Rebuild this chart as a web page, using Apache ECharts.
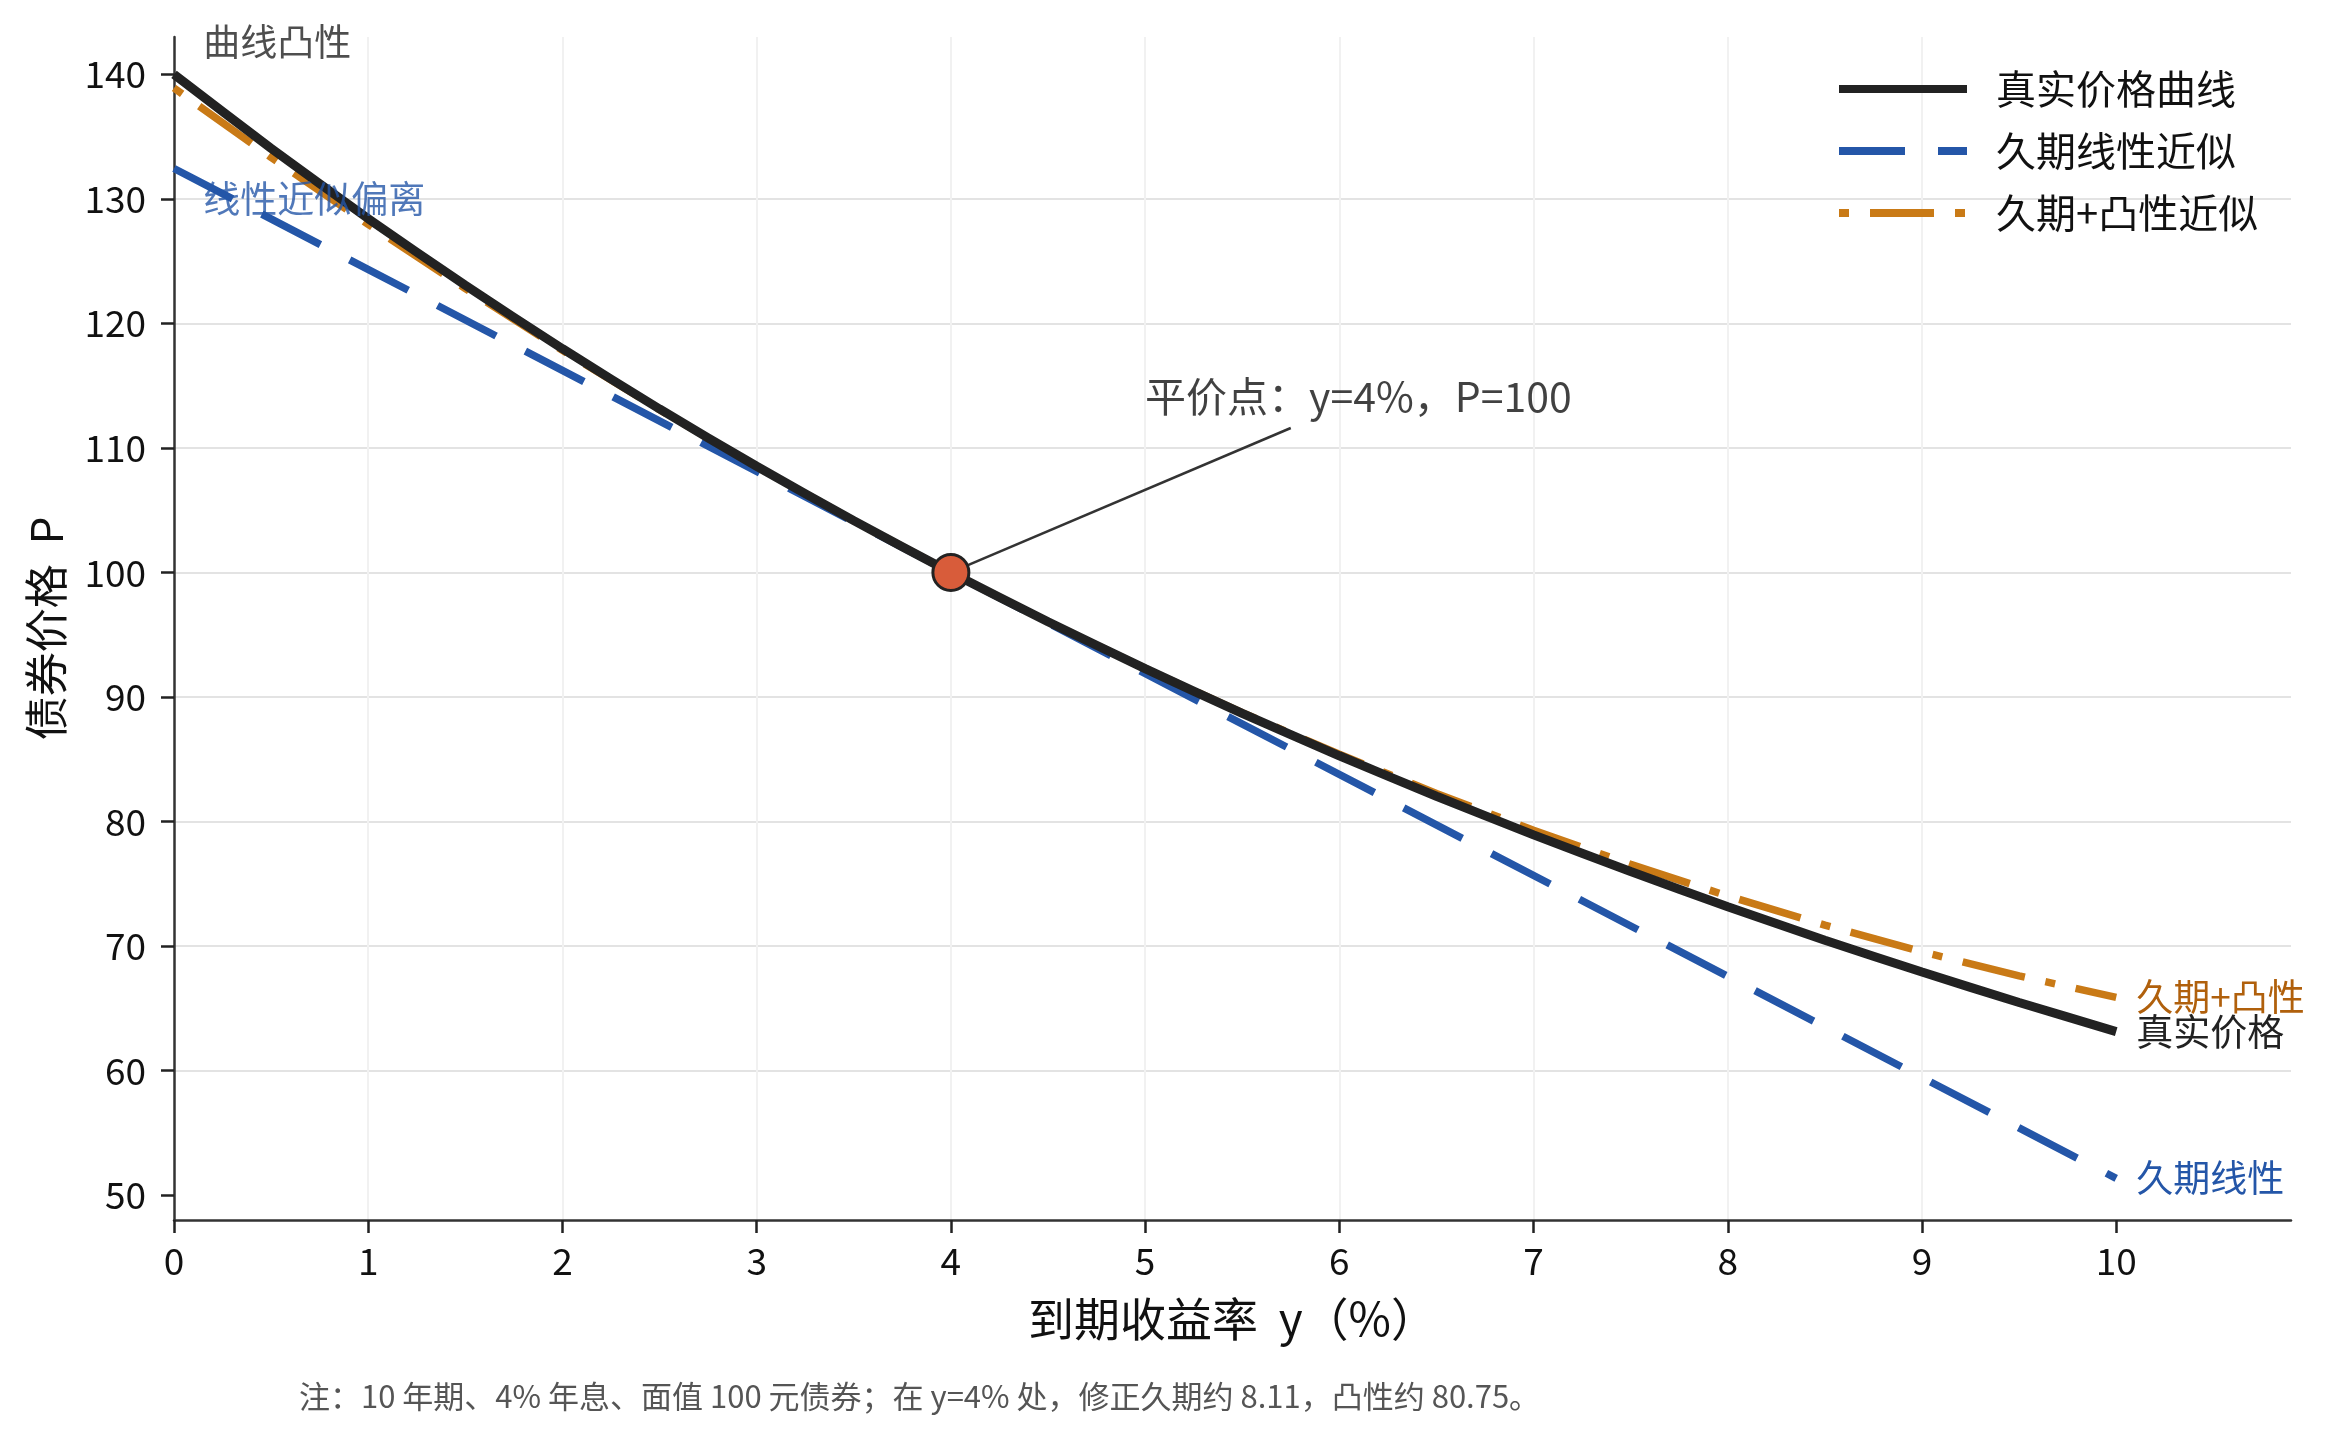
<!DOCTYPE html>
<html>
<head>
<meta charset="utf-8">
<title>债券价格与收益率</title>
<script src="https://cdn.jsdelivr.net/npm/echarts@6/dist/echarts.min.js"></script>
<style>
  html, body { margin: 0; padding: 0; background: #fff; }
  #chart { width: 2333px; height: 1440px; }
</style>
</head>
<body>
<div id="chart"></div>
<script>
// 收益率（%）
const yieldPts = [0, 0.5, 1, 1.5, 2, 2.5, 3, 3.5, 4, 4.5, 5, 5.5, 6, 6.5, 7, 7.5, 8, 8.5, 9, 9.5, 10]
// 真实价格
const truePrice = [140.00, 134.06, 128.41, 123.06, 117.97, 113.13, 108.53, 104.16, 100.00, 96.04, 92.28,
  88.69, 85.28, 82.03, 78.93, 75.98, 73.16, 70.47, 67.91, 65.47, 63.13]
// 久期线性近似（直线，两端点）
const durYield = [0, 10]
const durPrice = [132.44, 51.34]
// 久期+凸性近似
const convexPrice = [138.90, 133.33, 127.96, 122.80, 117.84, 113.07, 108.51, 104.16, 100.00, 96.05, 92.29,
  88.74, 85.40, 82.25, 79.30, 76.56, 74.02, 71.68, 69.54, 67.61, 65.88]
// 刻度
const xTicks = [0, 1, 2, 3, 4, 5, 6, 7, 8, 9, 10]
const yTicks = [50, 60, 70, 80, 90, 100, 110, 120, 130, 140]
// 平价点与注释
const parPoint = [4, 100]
const parLabelAt = [5.75, 111.6]
const notes = [
  { pos: [0.15, 142.6], text: '曲线凸性', color: '#222222', size: 37 },
  { pos: [0.15, 130.0], text: '线性近似偏离', color: '#2456a8', size: 37 },
  { pos: [5.0, 114.1], text: '平价点：y=4%，P=100', color: '#111111', size: 41 }
]

const FONT = '"Noto Sans CJK SC", "Noto Sans", sans-serif'
const zip = (xs, ys) => xs.map((x, i) => [x, ys[i]])

const chart = echarts.init(document.getElementById('chart'))

const option = {
  backgroundColor: '#ffffff',
  textStyle: { fontFamily: FONT },
  animation: false,
  grid: { left: 174, right: 42, top: 37, bottom: 220, containLabel: false },
  legend: {
    data: ['真实价格曲线', '久期线性近似', '久期+凸性近似'],
    orient: 'vertical',
    left: 1835,
    top: 69,
    padding: 0,
    itemWidth: 128,
    itemHeight: 40,
    itemGap: 22,
    itemStyle: { opacity: 0 },
    lineStyle: { width: 8 },
    textStyle: { fontSize: 40, color: '#111', fontFamily: FONT, padding: [0, 0, 0, 24] }
  },
  xAxis: {
    type: 'value',
    min: 0,
    max: 10.9,
    interval: 1,
    name: '到期收益率  y（%）',
    nameLocation: 'middle',
    nameGap: 76,
    nameTextStyle: { fontSize: 46, color: '#111', fontFamily: FONT },
    axisLine: { onZero: false, lineStyle: { color: '#333', width: 2.5 } },
    axisTick: { customValues: xTicks, length: 13, lineStyle: { color: '#222', width: 2.5 } },
    axisLabel: { customValues: xTicks, fontSize: 37, color: '#111', margin: 22, fontFamily: FONT },
    splitLine: { show: true, showMinLine: false, showMaxLine: false, lineStyle: { color: '#f1f1f1', width: 2 } }
  },
  yAxis: {
    type: 'value',
    min: 48,
    max: 143,
    splitNumber: 10,
    name: '债券价格  P',
    nameLocation: 'middle',
    nameGap: 106,
    nameTextStyle: { fontSize: 44, color: '#111', fontFamily: FONT },
    axisLine: { show: true, onZero: false, lineStyle: { color: '#333', width: 2.5 } },
    axisTick: { show: true, customValues: yTicks, length: 13, lineStyle: { color: '#222', width: 2.5 } },
    axisLabel: { customValues: yTicks, fontSize: 37, color: '#111', margin: 28, fontFamily: FONT },
    splitLine: { show: true, showMinLine: false, showMaxLine: false, lineStyle: { color: '#e3e3e3', width: 2 } }
  },
  series: [
    {
      name: '久期线性近似',
      type: 'line',
      data: zip(durYield, durPrice),
      symbol: 'none',
      z: 3,
      color: '#2456a8',
      lineStyle: { color: '#2456a8', width: 7.5, type: [66, 33], cap: 'butt' },
      endLabel: { show: true, formatter: '久期线性', distance: 20, fontSize: 37, color: '#2456a8', fontFamily: FONT }
    },
    {
      name: '久期+凸性近似',
      type: 'line',
      data: zip(yieldPts, convexPrice),
      symbol: 'none',
      z: 4,
      color: '#c97a16',
      lineStyle: { color: '#c97a16', width: 7.5, type: [10, 21, 64, 21], cap: 'butt' },
      endLabel: { show: true, formatter: '久期+凸性', distance: 20, fontSize: 37, color: '#b0600c', fontFamily: FONT }
    },
    {
      name: '真实价格曲线',
      type: 'line',
      data: zip(yieldPts, truePrice),
      symbol: 'none',
      smooth: 0.2,
      z: 5,
      color: '#222222',
      lineStyle: { color: '#222222', width: 9 },
      endLabel: { show: true, formatter: '真实价格', distance: 20, fontSize: 37, color: '#222', fontFamily: FONT }
    },
    {
      // 平价点引线
      name: 'leader',
      type: 'line',
      data: [parPoint, parLabelAt],
      symbol: 'none',
      silent: true,
      z: 6,
      lineStyle: { color: '#333', width: 2.5 }
    },
    {
      name: 'par',
      type: 'scatter',
      data: [parPoint],
      symbolSize: 36,
      z: 8,
      itemStyle: { color: '#d85c3a', borderColor: '#222', borderWidth: 3, opacity: 1 }
    },
    {
      name: 'notes',
      type: 'scatter',
      silent: true,
      symbolSize: 0,
      z: 9,
      data: notes.map(n => ({
        value: n.pos,
        label: {
          show: true,
          position: 'right',
          distance: 0,
          formatter: n.text,
          fontSize: n.size,
          color: n.color,
          fontFamily: FONT
        }
      }))
    }
  ],
  graphic: [
    {
      type: 'text',
      left: 299,
      top: 1381,
      style: {
        text: '注：10 年期、4% 年息、面值 100 元债券；在 y=4% 处，修正久期约 8.11，凸性约 80.75。',
        fontSize: 31,
        fill: '#555',
        fontFamily: FONT
      }
    }
  ]
}

chart.setOption(option)
window.addEventListener('resize', () => {
  chart.resize()
})
</script>
</body>
</html>
